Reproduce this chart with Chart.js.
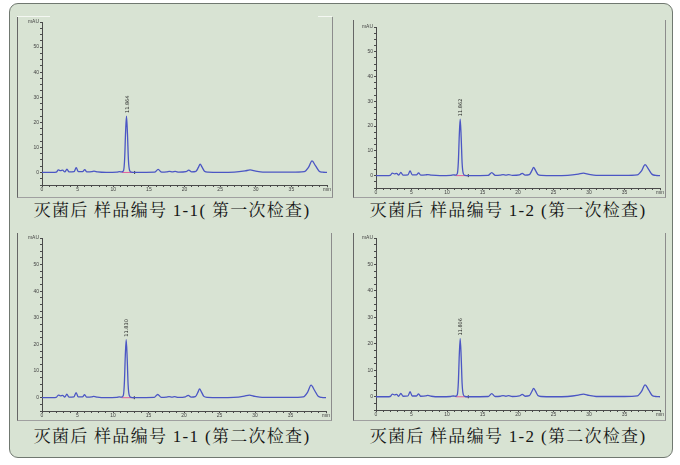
<!DOCTYPE html>
<html>
<head>
<meta charset="utf-8">
<script src="https://cdn.jsdelivr.net/npm/chart.js@4.4.0/dist/chart.umd.min.js"></script>
<style>
  body { margin: 0; width: 680px; height: 465px; background: #fff; position: relative; overflow: hidden; }
  #box { position: absolute; left: 9px; top: 3px; width: 662px; height: 453px; background: #d8e3d3;
         border: 1px solid #707870; border-radius: 9px; }
  .panel { position: absolute; border-left: 1px solid #666; border-right: 1px solid #8c8c8c; border-bottom: 1px solid #a0a0a0; }
  .panel canvas { position: absolute; left: 0; top: 0; }
  .cap { position: absolute; width: 330px; text-align: center; color: #151515; white-space: pre; letter-spacing: 1.3px;
         font-family: "Liberation Serif", "Noto Serif CJK SC", "Noto Sans CJK SC", serif; font-size: 17px; line-height: 20px; }
  .hl { position: absolute; height: 1px; background: #f4f7f2; }
</style>
</head>
<body>
<div id="box"></div>

<div class="panel" style="left:17px;top:17px;width:314px;height:180px"><canvas id="c1" width="314" height="180"></canvas></div>
<div class="panel" style="left:353px;top:20px;width:311px;height:177px"><canvas id="c2" width="311" height="177"></canvas></div>
<div class="panel" style="left:17px;top:233px;width:313px;height:187px"><canvas id="c3" width="313" height="187"></canvas></div>
<div class="panel" style="left:353px;top:233px;width:311px;height:187px"><canvas id="c4" width="311" height="187"></canvas></div>
<div class="hl" style="left:17px;top:16px;width:33px"></div>
<div class="hl" style="left:318px;top:16px;width:14px"></div>

<div class="cap" style="left:7px;top:201px">灭菌后 样品编号 1-1( 第一次检查)</div>
<div class="cap" style="left:343px;top:201px">灭菌后 样品编号 1-2 (第一次检查)</div>
<div class="cap" style="left:7px;top:427px">灭菌后 样品编号 1-1 (第二次检查)</div>
<div class="cap" style="left:343px;top:427px">灭菌后 样品编号 1-2 (第二次检查)</div>

<script>
// retention time (min)
const times = [0, 1.5, 2.0, 2.3, 2.6, 2.9, 3.2, 3.5, 3.8, 4.5, 4.8, 5.1, 5.7, 6.0, 6.3, 7.0, 7.3, 7.8, 9.0, 10.5,
  10.9, 11.2, 11.45, 11.6, 11.73, 11.86, 12.0, 12.13, 12.3, 12.55, 13.0, 15.8, 16.3, 16.8, 17.5, 17.9, 18.3, 18.7, 19.2, 20.2,
  20.6, 21.0, 21.6, 21.95, 22.2, 22.45, 22.8, 23.3, 25.0, 27.0, 28.5, 29.2, 30.0, 31.0, 35.0, 36.8, 37.4, 37.9, 38.4, 38.9,
  39.4, 40];

// absorbance (mAU)
const run1_1 = [0, 0, 0.1, 1.0, 0.7, 0.9, 0.2, 1.3, 0.2, 0.3, 1.9, 0.3, 0.3, 1.1, 0.2, 0.3, 0.5, 0.2, 0, 0.1,
  0.3, 0.2, 0.8, 5.5, 16, 22.5, 15, 5, 0.8, 0.1, 0, 0.1, 1.2, 0.1, 0.2, 0.4, 0.2, 0.4, 0.1, 0.3,
  0.9, 0.2, 0.4, 2.0, 3.3, 2.2, 0.5, 0.1, 0, 0.1, 0.6, 1.0, 0.5, 0.1, 0.1, 0.3, 2.0, 4.6, 2.6, 0.5,
  0.1, 0];
const run1_2 = [0, 0, 0.1, 1.0, 0.7, 0.9, 0.2, 1.3, 0.2, 0.3, 1.9, 0.3, 0.3, 1.1, 0.2, 0.3, 0.4, 0.2, 0, 0.1,
  0.3, 0.2, 0.8, 5.6, 16.2, 22.8, 15.2, 5, 0.8, 0.1, 0, 0.1, 1.2, 0.1, 0.2, 0.4, 0.2, 0.4, 0.1, 0.3,
  0.9, 0.2, 0.4, 2.0, 3.3, 2.2, 0.5, 0.1, 0, 0.1, 0.6, 1.0, 0.5, 0.1, 0.1, 0.3, 1.9, 4.4, 2.5, 0.5,
  0.1, 0];
const run2_1 = [0, 0, 0.1, 1.0, 0.7, 0.9, 0.2, 1.3, 0.2, 0.3, 1.9, 0.3, 0.3, 1.1, 0.2, 0.3, 0.5, 0.2, 0, 0.1,
  0.3, 0.2, 0.8, 5.4, 15.6, 21.8, 14.6, 4.8, 0.8, 0.1, 0, 0.1, 1.2, 0.1, 0.2, 0.4, 0.2, 0.4, 0.1, 0.3,
  0.9, 0.2, 0.4, 2.0, 3.3, 2.2, 0.5, 0.1, 0, 0.1, 0.6, 1.0, 0.5, 0.1, 0.1, 0.3, 2.0, 4.7, 2.7, 0.5,
  0.1, 0];
const run2_2 = [0, 0, 0.1, 1.0, 0.7, 0.9, 0.2, 1.3, 0.2, 0.3, 1.9, 0.3, 0.3, 1.1, 0.2, 0.3, 0.5, 0.2, 0, 0.1,
  0.3, 0.2, 0.8, 5.5, 15.8, 22.0, 14.8, 4.9, 0.8, 0.1, 0, 0.1, 1.2, 0.1, 0.2, 0.4, 0.2, 0.4, 0.1, 0.3,
  0.9, 0.2, 0.4, 2.0, 3.2, 2.2, 0.5, 0.1, 0, 0.1, 0.6, 1.0, 0.5, 0.1, 0.1, 0.3, 2.0, 4.5, 2.6, 0.5,
  0.1, 0];

const peakLabels = ['11.864', '11.862', '11.830', '11.806'];
const baselineStart = 11.2, baselineEnd = 13.0;

// chart-area offsets inside each framed panel
const panels = [
  { id: 'c1', values: run1_1, left: 24, top: 5, bottom: 12, right: 1 },
  { id: 'c2', values: run1_2, left: 22, top: 7, bottom: 9, right: 1 },
  { id: 'c3', values: run2_1, left: 24, top: 5, bottom: 9, right: 1 },
  { id: 'c4', values: run2_2, left: 22, top: 5, bottom: 10, right: 1 }
];

const axisColor = '#4a4a4a';

const peakLabel = {
  id: 'peakLabel',
  afterDatasetsDraw(chart, args, opts) {
    const vals = chart.data.datasets[0].data;
    let best = vals[0];
    vals.forEach(p => { if (p.y > best.y) best = p; });
    const px = chart.scales.x.getPixelForValue(best.x);
    const py = chart.scales.y.getPixelForValue(best.y);
    const c = chart.ctx;
    c.save();
    c.translate(px + 2, py - 3);
    c.rotate(-Math.PI / 2);
    c.font = '5px "DejaVu Sans"';
    c.fillStyle = '#222';
    c.textAlign = 'left';
    c.fillText(opts.text, 0, 0);
    c.restore();
  }
};

panels.forEach((p, i) => {
  new Chart(document.getElementById(p.id), {
    type: 'line',
    data: {
      datasets: [{
        data: times.map((t, k) => ({ x: t, y: p.values[k] })),
        borderColor: '#4b56c4',
        borderWidth: 1.3,
        pointRadius: 0,
        cubicInterpolationMode: 'monotone'
      }, {
        data: [{ x: baselineStart, y: 0 }, { x: baselineEnd, y: 0 }],
        borderColor: '#e2609c',
        borderWidth: 1,
        pointRadius: [0, 1.5],
        pointStyle: 'line',
        rotation: 90,
        pointBorderColor: ['#e2609c', '#333']
      }]
    },
    options: {
      responsive: false,
      animation: false,
      layout: { padding: { top: p.top, right: p.right, left: 0, bottom: 0 } },
      plugins: {
        legend: { display: false },
        tooltip: { enabled: false },
        peakLabel: { text: peakLabels[i] }
      },
      scales: {
        x: {
          type: 'linear', min: 0, max: 40,
          grid: { drawOnChartArea: false, tickLength: 2, color: axisColor },
          border: { color: axisColor },
          ticks: {
            stepSize: 1, autoSkip: false, maxRotation: 0, padding: 0,
            font: { size: 5 }, color: '#444',
            callback: v => v === 40 ? 'min' : (v % 5 === 0 ? v : '')
          },
          afterFit: s => { s.height = p.bottom; }
        },
        y: {
          min: -5, max: 60,
          grid: { drawOnChartArea: false, tickLength: 2, color: axisColor },
          border: { color: axisColor },
          ticks: {
            stepSize: 2.5, autoSkip: false, padding: 1,
            font: { size: 5 }, color: '#444',
            callback: v => v === 60 ? 'mAU' : (v >= 0 && v % 10 === 0 ? v : '')
          },
          afterFit: s => { s.width = p.left; }
        }
      }
    },
    plugins: [peakLabel]
  });
});
</script>
</body>
</html>
